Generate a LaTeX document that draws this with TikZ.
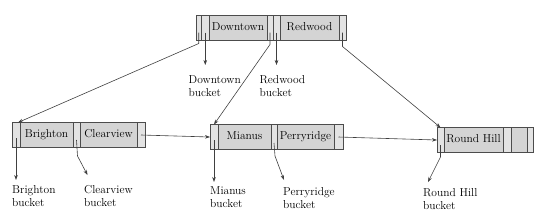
\documentclass[tikz,border=0pt]{standalone}
\usetikzlibrary{arrows.meta,calc}
\definecolor{keyfill}{gray}{0.83}
\definecolor{ptrfill}{gray}{0.89}
\definecolor{linec}{gray}{0.3}
\definecolor{arrc}{gray}{0.25}
\newcommand{\lblfont}{\fontsize{11.5}{13}\selectfont}
\begin{document}
\begin{tikzpicture}[x=1pt,y=-1pt,
  cellbase/.style={draw=linec, line width=0.7pt, inner sep=0pt, outer sep=0pt,
    anchor=west, minimum height=25pt},
  keycell/.style={cellbase, fill=keyfill, font=\lblfont, text height=8pt, text depth=2.5pt},
  ptrcell/.style={cellbase, fill=ptrfill},
  ptr/.style={draw=arrc, line width=0.6pt, -{Stealth[length=5pt,width=3.6pt]}},
  bucket/.style={font=\lblfont, align=left, anchor=north west, inner sep=0pt}]
\useasboundingbox (0,0) rectangle (540,223);

% root node
\node[ptrcell, minimum width=5.5pt] (r1a) at (196,27.5) {};
\node[ptrcell, minimum width=7.5pt] (r1b) at (201.5,27.5) {};
\node[keycell, minimum width=58pt] (rk1) at (209,27.5) {Downtown};
\node[ptrcell, minimum width=6pt] (r2a) at (267,27.5) {};
\node[ptrcell, minimum width=7pt] (r2b) at (273,27.5) {};
\node[keycell, minimum width=59pt] (rk2) at (280,27.5) {Redwood};
\node[ptrcell, minimum width=7pt] (r3) at (339,27.5) {};

% leaf Brighton/Clearview
\node[ptrcell, minimum width=8pt] (b1) at (12,135) {};
\node[keycell, minimum width=53pt] (bk1) at (20,135) {Brighton};
\node[ptrcell, minimum width=7pt] (b2) at (73,135) {};
\node[keycell, minimum width=57pt] (bk2) at (80,135) {Clearview};
\node[ptrcell, minimum width=8pt] (b3) at (137,135) {};

% leaf Mianus/Perryridge
\node[ptrcell, minimum width=8pt] (m1) at (210,137) {};
\node[keycell, minimum width=53pt] (mk1) at (218,137) {Mianus};
\node[ptrcell, minimum width=6pt] (m2) at (271,137) {};
\node[keycell, minimum width=57pt] (mk2) at (277,137) {Perryridge};
\node[ptrcell, minimum width=9pt] (m3) at (334,137) {};

% leaf Round Hill
\node[ptrcell, minimum width=7pt] (h1) at (437,140) {};
\node[keycell, minimum width=59pt] (hk1) at (444,140) {Round Hill};
\node[ptrcell, minimum width=8pt] (h2) at (503,140) {};
\node[keycell, minimum width=16pt] (hk2) at (511,140) {};
\node[ptrcell, minimum width=6pt] (h3) at (527,140) {};

% bucket labels
\node[bucket] (dtb) at (188.5,75) {Downtown\\bucket};
\node[bucket] (rwb) at (259.5,75) {Redwood\\bucket};
\node[bucket] (brb) at (12,185) {Brighton\\bucket};
\node[bucket] (cvb) at (84,185) {Clearview\\bucket};
\node[bucket] (mib) at (210,186.5) {Mianus\\bucket};
\node[bucket] (prb) at (283,187.5) {Perryridge\\bucket};
\node[bucket] (rhb) at (423,188.5) {Round Hill\\bucket};

% arrow tip coordinates
\coordinate (dtt) at (0,65);
\coordinate (bbt) at (0,180);
\coordinate (mbt) at (0,182);
\coordinate (cvt) at (87.5,175);
\coordinate (prt) at (284,180);
\coordinate (rht) at (428,182);

% root pointers
\draw[ptr] ([yshift=-5pt]r1a.center) -- ++(0,11) -- ([xshift=-2pt]b1.north east);
\draw[ptr] ([yshift=-5pt]r1b.center) -- (r1b.center |- dtt);
\draw[ptr] ([yshift=-5pt]r2a.center) -- ++(0,12) -- (m1.north);
\draw[ptr] ([yshift=-5pt]r2b.center) -- (r2b.center |- dtt);
\draw[ptr] ([yshift=-5pt]r3.center) -- ++(0,14) -- (h1.north);

% leaf pointers
\draw[ptr] ([yshift=-3pt]b1.center) -- (b1.center |- bbt);
\draw[ptr] ([yshift=-5pt]b2.center) -- ++(1,16) -- (cvt);
\draw[ptr] (b3.center) -- (m1.west);
\draw[ptr] ([yshift=-3pt]m1.center) -- (m1.center |- mbt);
\draw[ptr] ([yshift=-6pt]m2.center) -- ++(1,13) -- (prt);
\draw[ptr] (m3.center) -- (h1.west);
\draw[ptr] ([yshift=-5pt]h1.center) -- ++(0,12) -- (rht);
\end{tikzpicture}
\end{document}
